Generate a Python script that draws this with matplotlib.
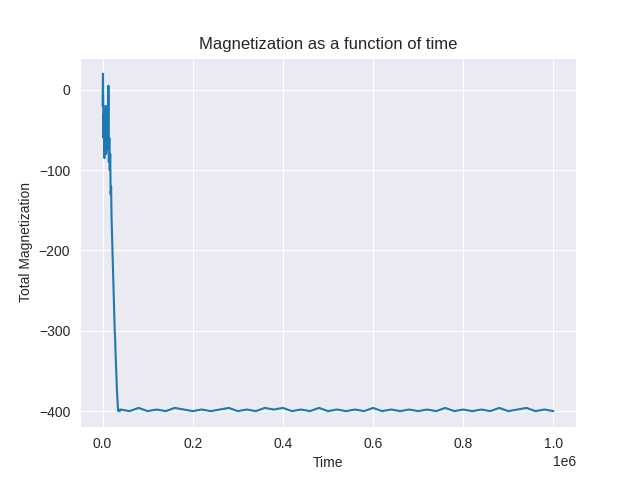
import matplotlib
matplotlib.use("Agg")
import matplotlib.pyplot as plt
import seaborn as sns

# early relaxation phase (time in steps)
t_early = [0, 1000, 2000, 3000, 4000, 5000, 6000, 7000, 8000, 9000, 10000,
           11000, 12000, 13000, 14000, 15000, 16000, 17000, 18000, 19000, 20000,
           21000, 22000, 23000, 24000, 25000, 26000, 27000, 28000, 29000, 30000,
           31000, 32000, 33000, 34000, 35000, 36000, 38000]
m_early = [-20, 20, -60, -30, -85, -40, -70, -20, -80, -50, -60,
           -30, -75, 5, -90, -60, -100, -80, -130, -120, -160,
           -180, -200, -220, -240, -260, -280, -300, -310, -330, -345,
           -360, -375, -385, -395, -400, -398, -400]

# equilibrium phase
t_late = [40000, 60000, 80000, 100000, 120000, 140000, 160000, 180000, 200000,
          220000, 240000, 260000, 280000, 300000, 320000, 340000, 360000, 380000,
          400000, 420000, 440000, 460000, 480000, 500000, 520000, 540000, 560000,
          580000, 600000, 620000, 640000, 660000, 680000, 700000, 720000, 740000,
          760000, 780000, 800000, 820000, 840000, 860000, 880000, 900000, 920000,
          940000, 960000, 980000, 1000000]
m_late = [-398, -400, -396, -400, -398, -400, -396, -398, -400, -398, -400,
          -398, -396, -400, -398, -400, -396, -398, -396, -400, -398, -400,
          -396, -400, -398, -400, -398, -400, -396, -400, -398, -400, -398,
          -400, -398, -400, -396, -400, -398, -400, -398, -400, -396, -400,
          -398, -396, -400, -398, -400]

time = t_early + t_late
mag = m_early + m_late

sns.set_style("darkgrid")
plt.rcParams['font.family'] = ['Liberation Sans', 'DejaVu Sans']

fig, ax = plt.subplots(figsize=(6.4, 4.8), dpi=100)
ax.plot(time, mag, color='#1f77b4', linewidth=1.5)
ax.set_title('Magnetization as a function of time', fontsize=12)
ax.set_xlabel('Time')
ax.set_ylabel('Total Magnetization')
ax.set_yticks([0, -100, -200, -300, -400])
ax.set_ylim(-420, 40)
fig.savefig('out.png')
